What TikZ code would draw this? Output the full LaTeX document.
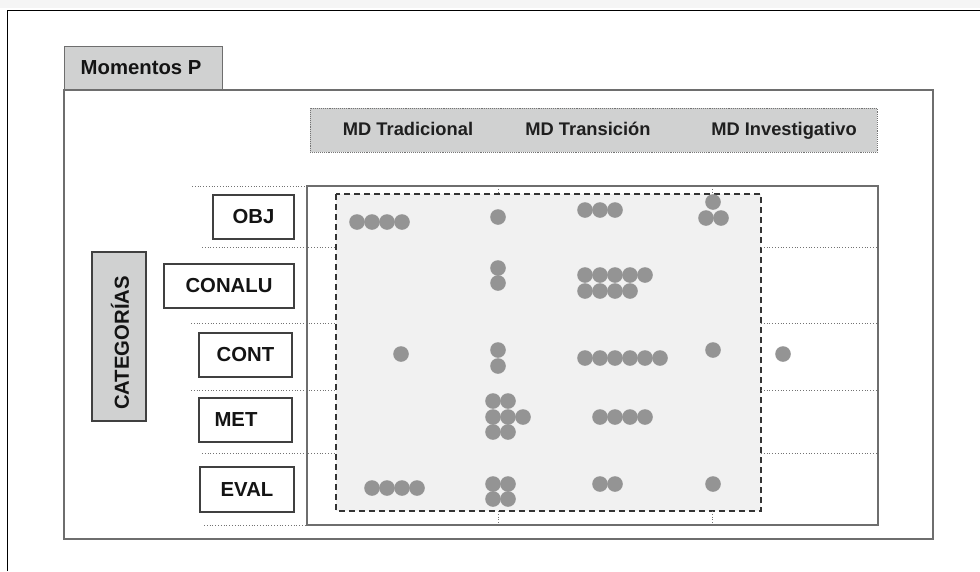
\documentclass[tikz,border=0pt]{standalone}
\usepackage{fontspec}
\setmainfont{Liberation Sans}
\definecolor{tabgray}{HTML}{D0D1D1}
\definecolor{dotgray}{HTML}{949494}
\definecolor{framegray}{HTML}{6E6E6E}
\definecolor{lightfill}{HTML}{F1F1F1}
\tikzset{
  lbl/.style={font=\fontsize{20.3}{23}\selectfont\bfseries, text=black!92},
  hdr/.style={font=\fontsize{18.3}{21}\selectfont\bfseries, text=black!88},
  catbox/.style={draw=black!75, line width=1.2pt, fill=white, inner sep=0pt, lbl},
  sepline/.style={draw=black!55, line width=0.8pt, dotted},
  gdot/.style={fill=dotgray},
}
\newcommand{\gd}[2]{\fill[gdot] (#1,#2) circle (7.8);}
\begin{document}
\begin{tikzpicture}[x=1pt,y=-1pt]
\useasboundingbox (0,0) rectangle (980,571);
% outer frame
\fill[black!4] (0,0) rectangle (980,8);
\draw[black, line width=1pt] (7,571) -- (7,10) -- (980,10);
% tab
\node[draw=framegray, line width=1.3pt, fill=tabgray, minimum width=158pt, minimum height=44pt, inner sep=0pt, anchor=north west] (tab) at (64,46) {};
\node[lbl, anchor=base west, inner sep=0pt] (tabtxt) at (80.5,74) {Momentos P};
% main frame
\draw[framegray, line width=1.5pt] (64,90) rectangle (933,539);
% header bar
\node[draw=black!55, densely dotted, line width=0.9pt, fill=tabgray, minimum width=567pt, minimum height=44pt, inner sep=0pt, anchor=north west] (hbar) at (310,108) {};
\node[hdr, anchor=base, inner sep=0pt] (h1) at (408,135) {MD Tradicional};
\node[hdr, anchor=base, inner sep=0pt] (h2) at (588,135) {MD Transición};
\node[hdr, anchor=base, inner sep=0pt] (h3) at (784,135) {MD Investigativo};
% grid box
\draw[framegray, line width=1.3pt] (307,186) rectangle (878,525);
% dashed box
\draw[fill=lightfill, draw=black!80, line width=1.3pt, dash pattern=on 6pt off 4pt] (336,194) rectangle (761,511);
% separator lines
\draw[sepline] (192,186) -- (307,186);
\draw[sepline] (202,247) -- (336,247);
\draw[sepline] (191,323) -- (336,323);
\draw[sepline] (191,390) -- (336,390);
\draw[sepline] (202,453) -- (336,453);
\draw[sepline] (204,525) -- (307,525);
\foreach \yy in {247,323,390,453} {\draw[sepline] (761,\yy) -- (878,\yy);}
\foreach \xx in {498,712} {
  \draw[sepline] (\xx,186) -- (\xx,194);
  \draw[sepline] (\xx,511) -- (\xx,525);
}
% category boxes
\node[catbox, minimum width=81pt, minimum height=44pt] (obj) at (253.5,217) {OBJ};
\node[catbox, minimum width=130pt, minimum height=44pt] (conalu) at (229,286) {CONALU};
\node[catbox, minimum width=93pt, minimum height=44pt] (cont) at (245.5,355) {CONT};
\node[catbox, minimum width=93pt, minimum height=44pt] (met) at (245.5,420) {};
\node[lbl] (mettxt) at (236,420) {MET};
\node[catbox, minimum width=94pt, minimum height=45pt] (eval) at (247,489.5) {EVAL};
\node[draw=black!75, line width=1.2pt, fill=tabgray, minimum width=54pt, minimum height=169pt, inner sep=0pt] (cat) at (119,336.5) {};
\node[lbl, rotate=90] (cattxt) at (120,343) {CATEGORÍAS};
% dots: OBJ
\foreach \xx in {357,372,387,402} {\gd{\xx}{222}}
\gd{498}{217}
\foreach \xx in {585,600,615} {\gd{\xx}{210}}
\gd{713}{202} \gd{706}{218} \gd{721}{218}
% CONALU
\gd{498}{268} \gd{498}{283}
\foreach \xx in {585,600,615,630,645} {\gd{\xx}{275}}
\foreach \xx in {585,600,615,630} {\gd{\xx}{291}}
% CONT
\gd{401}{354}
\gd{498}{350} \gd{498}{366}
\foreach \xx in {585,600,615,630,645,660} {\gd{\xx}{358}}
\gd{713}{350}
\gd{783}{354}
% MET
\gd{493}{401} \gd{508}{401}
\gd{493}{417} \gd{508}{417} \gd{523}{417}
\gd{493}{432} \gd{508}{432}
\foreach \xx in {600,615,630,645} {\gd{\xx}{417}}
% EVAL
\foreach \xx in {372,387,402,417} {\gd{\xx}{488}}
\gd{493}{484} \gd{508}{484} \gd{493}{499} \gd{508}{499}
\gd{600}{484} \gd{615}{484}
\gd{713}{484}
\end{tikzpicture}
\end{document}
